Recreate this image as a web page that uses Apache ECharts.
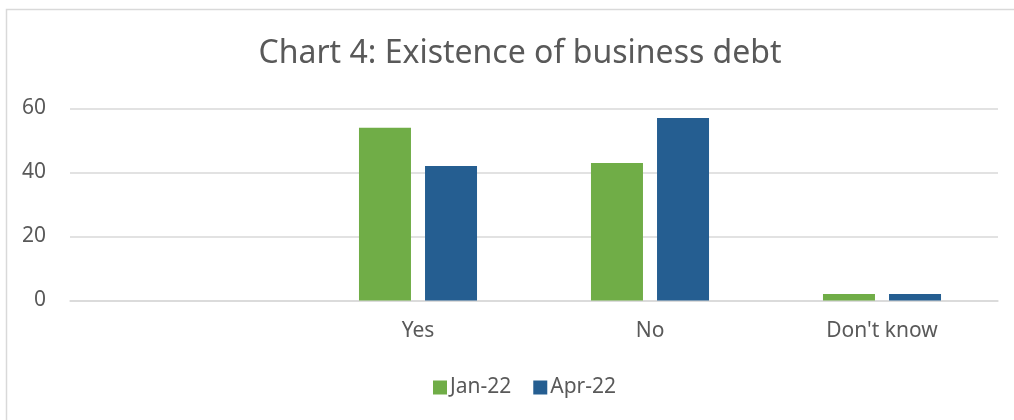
<!DOCTYPE html>
<html>
<head>
<meta charset="utf-8">
<style>
  html, body { margin: 0; padding: 0; background: #fff; }
  #chart { width: 1014px; height: 420px; }
</style>
<script src="https://cdn.jsdelivr.net/npm/echarts@6/dist/echarts.min.js"></script>
</head>
<body>
<div id="chart"></div>
<script>
// Survey responses: does the business hold any debt?
const categories = ['', 'Yes', 'No', "Don't know"];
const jan22 = [null, 54, 43, 2];
const apr22 = [null, 42, 57, 2];
const yTicks = { min: 0, max: 60, interval: 20 };

const font = '"Noto Sans", "Open Sans", sans-serif';
const textColor = '#595959';

const chart = echarts.init(document.getElementById('chart'), null, { renderer: 'canvas' });
chart.setOption({
  animation: false,
  backgroundColor: '#fff',
  graphic: [{
    type: 'rect',
    shape: { x: 6.5, y: 9.5, width: 1020, height: 420 },
    style: { fill: 'none', stroke: '#d9d9d9', lineWidth: 1.5 },
    silent: true
  }],
  title: {
    text: 'Chart 4: Existence of business debt',
    left: 515,
    textAlign: 'center',
    top: 33,
    textStyle: { fontFamily: font, fontSize: 32, fontWeight: 'normal', color: textColor }
  },
  legend: {
    left: 428,
    top: 372,
    itemWidth: 14,
    itemHeight: 14,
    itemGap: 22,
    icon: 'rect',
    textStyle: { fontFamily: font, fontSize: 21, color: textColor, padding: [0, 0, 0, -2] },
    data: ['Jan-22', 'Apr-22']
  },
  grid: { left: 70, right: 16, top: 108.5, bottom: 119.5, containLabel: false },
  xAxis: {
    type: 'category',
    data: categories,
    axisLine: { lineStyle: { color: '#d9d9d9', width: 1.5 } },
    axisTick: { show: false },
    axisLabel: { fontFamily: font, fontSize: 21, color: textColor, margin: 20 }
  },
  yAxis: {
    type: 'value',
    min: yTicks.min,
    max: yTicks.max,
    interval: yTicks.interval,
    axisLine: { show: false },
    axisTick: { show: false },
    splitLine: { lineStyle: { color: '#d9d9d9', width: 1.5 } },
    axisLabel: { fontFamily: font, fontSize: 21, color: textColor, margin: 24 }
  },
  series: [
    {
      name: 'Jan-22', type: 'bar', data: jan22,
      barWidth: 52, barGap: '27%',
      itemStyle: { color: '#70ad47' }
    },
    {
      name: 'Apr-22', type: 'bar', data: apr22,
      barWidth: 52, barGap: '27%',
      itemStyle: { color: '#255e91' }
    }
  ]
});
</script>
</body>
</html>
